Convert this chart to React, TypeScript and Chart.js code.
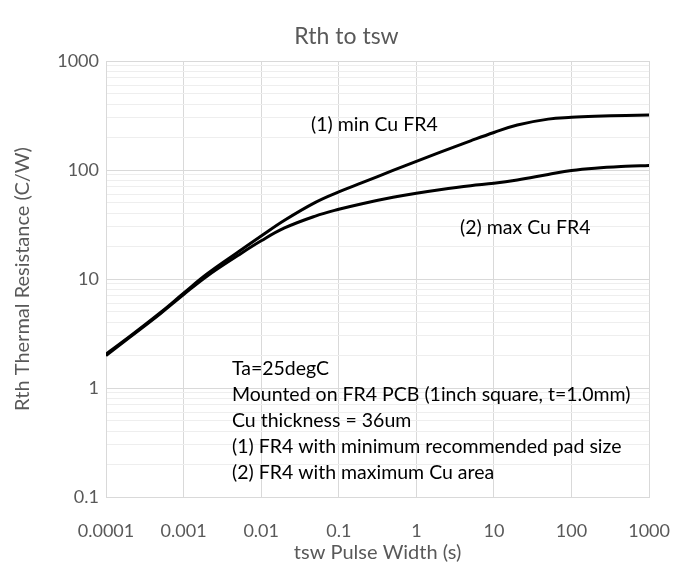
import React, { useEffect, useRef } from 'react';
import { Chart, registerables } from 'chart.js';

Chart.register(...registerables);

// ---- data ----
const chartTitle = 'Rth to tsw';
const xAxisTitle = 'tsw Pulse Width (s)';
const yAxisTitle = 'Rth Thermal Resistance (C/W)';

const pulseWidths = [0.0001, 0.0002, 0.0005, 0.001, 0.002, 0.005, 0.01, 0.02, 0.05, 0.1, 0.2, 0.5, 1, 2, 5, 10, 20, 50, 100, 200, 500, 1000];
const rthMinCu = [2.05, 2.95, 4.9, 7.4, 11.1, 17.6, 24.8, 34.6, 50.5, 63, 76.5, 99, 120, 145, 185, 221, 259, 293, 304, 311, 317, 320];
const rthMaxCu = [1.98, 2.9, 4.8, 7.2, 10.6, 16.4, 22.4, 29.4, 37.8, 43.6, 49.1, 56.2, 61.3, 66, 71.8, 75.5, 81, 91, 99, 104, 108, 110];

const xTickLabels = ['0.0001', '0.001', '0.01', '0.1', '1', '10', '100', '1000'];
const yTickLabels = ['0.1', '1', '10', '100', '1000'];

const seriesLabels = ['(1) min Cu FR4', '(2) max Cu FR4'];
// anchor (left edge, vertical middle) of each series label, in data units
const seriesLabelX = [0.044, 3.66];
const seriesLabelY = [259, 29.4];

const noteLines = [
  'Ta=25degC',
  'Mounted on FR4 PCB (1inch square, t=1.0mm)',
  'Cu thickness = 36um',
  '(1) FR4 with minimum recommended pad size',
  '(2) FR4 with maximum Cu area',
];
const noteAnchorX = 0.0042;
const noteAnchorY = 1.5;

// ---- helpers ----
const FONT = 'Lato, "Open Sans", sans-serif';
const mantissa = (v: number) => {
  const e = Math.floor(Math.log10(v) + 1e-9);
  return v / Math.pow(10, e);
};
const isDecade = (v: number) => Math.abs(mantissa(v) - 1) < 1e-6;

const xTickValues = xTickLabels.map(Number);
const yTickValues: number[] = [];
yTickLabels.map(Number).forEach((d, i, arr) => {
  if (i === arr.length - 1) {
    yTickValues.push(d);
  } else {
    for (let m = 1; m <= 9; m++) yTickValues.push(Number((m * d).toPrecision(6)));
  }
});

const labelFor = (labels: string[], v: number) => {
  const idx = labels.findIndex((l) => Math.abs(Number(l) - v) / v < 1e-6);
  return idx >= 0 ? labels[idx] : '';
};

const textPlugin = {
  id: 'chartTexts',
  afterDraw(chart: any) {
    const { ctx, scales } = chart;
    const x = scales.x;
    const y = scales.y;
    ctx.save();
    // title
    ctx.font = `23px ${FONT}`;
    ctx.fillStyle = '#595959';
    ctx.textAlign = 'center';
    ctx.textBaseline = 'middle';
    ctx.fillText(chartTitle, chart.width / 2, 37);

    // series labels
    ctx.font = `19.5px ${FONT}`;
    ctx.fillStyle = '#000000';
    ctx.textAlign = 'left';
    seriesLabels.forEach((s, i) => {
      ctx.fillText(s, x.getPixelForValue(seriesLabelX[i]), y.getPixelForValue(seriesLabelY[i]));
    });

    // notes
    const nx = x.getPixelForValue(noteAnchorX);
    const ny = y.getPixelForValue(noteAnchorY);
    noteLines.forEach((line, i) => {
      ctx.fillText(line, nx, ny + i * 26);
    });
    ctx.restore();
  },
};

export default function App() {
  const canvasRef = useRef<HTMLCanvasElement | null>(null);

  useEffect(() => {
    document.body.style.margin = '0';
    const canvas = canvasRef.current;
    if (!canvas) return;

    const lineStyle = {
      borderColor: '#000000',
      borderWidth: 3,
      pointRadius: 0,
      fill: false,
      tension: 0.4,
    };

    const chart = new Chart(canvas, {
      type: 'line',
      data: {
        datasets: [
          {
            label: seriesLabels[0],
            data: pulseWidths.map((t, i) => ({ x: t, y: rthMinCu[i] })),
            ...lineStyle,
          },
          {
            label: seriesLabels[1],
            data: pulseWidths.map((t, i) => ({ x: t, y: rthMaxCu[i] })),
            ...lineStyle,
          },
        ],
      },
      options: {
        responsive: false,
        animation: false,
        devicePixelRatio: 1,
        layout: { padding: { top: 61, right: 42, left: 0, bottom: 0 } },
        plugins: {
          legend: { display: false },
          title: { display: false },
          tooltip: { enabled: false },
        },
        scales: {
          x: {
            type: 'logarithmic',
            min: 0.0001,
            max: 1000,
            afterBuildTicks: (scale: any) => {
              scale.ticks = xTickValues.map((v) => ({ value: v, major: true }));
            },
            afterFit: (scale: any) => {
              scale.height = 75;
            },
            ticks: {
              autoSkip: false,
              maxRotation: 0,
              padding: 23,
              color: '#595959',
              font: { family: FONT, size: 18 },
              callback: (v: any) => labelFor(xTickLabels, Number(v)),
            },
            grid: {
              drawTicks: false,
              color: '#d9d9d9',
              lineWidth: 1,
            },
            border: { color: '#d9d9d9' },
            title: {
              display: true,
              text: xAxisTitle,
              color: '#595959',
              font: { family: FONT, size: 20 },
              padding: { top: 0, bottom: 7 },
            },
          },
          y: {
            type: 'logarithmic',
            min: 0.1,
            max: 1000,
            afterBuildTicks: (scale: any) => {
              scale.ticks = yTickValues.map((v) => ({ value: v, major: isDecade(v) }));
            },
            afterFit: (scale: any) => {
              scale.width = 106;
            },
            ticks: {
              autoSkip: false,
              padding: 7,
              color: '#595959',
              font: { family: FONT, size: 18 },
              callback: (v: any) => (isDecade(Number(v)) ? labelFor(yTickLabels, Number(v)) : ''),
            },
            grid: {
              drawTicks: false,
              lineWidth: 1,
              color: (ctx: any) => {
                const v = ctx.tick ? ctx.tick.value : 1;
                return isDecade(v) ? '#d9d9d9' : '#eeeeee';
              },
            },
            border: { color: '#d9d9d9' },
            title: {
              display: true,
              text: yAxisTitle,
              color: '#595959',
              font: { family: FONT, size: 20 },
              padding: { top: 11, bottom: 0 },
            },
          },
        },
      } as any,
      plugins: [textPlugin],
    });

    return () => {
      chart.destroy();
    };
  }, []);

  return (
    <div style={{ width: 693, height: 572 }}>
      <canvas ref={canvasRef} width={693} height={572} />
    </div>
  );
}
